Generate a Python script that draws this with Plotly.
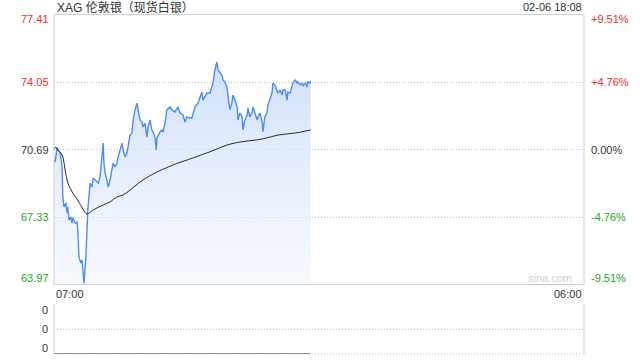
import pandas as pd
import plotly.graph_objects as go

# ---------------- data ----------------
title_text = "XAG 伦敦银（现货白银）"
stamp_text = "02-06 18:08"
day = "2025-02-06 "

price_times = [
    "07:00", "07:03", "07:08", "07:10", "07:16", "07:21", "07:23", "07:26", "07:31", "07:34",
    "07:36", "07:39", "07:44", "07:47", "07:49", "07:55", "08:00", "08:02", "08:05", "08:10",
    "08:13", "08:15", "08:18", "08:23", "08:26", "08:28", "08:34", "08:39", "08:42", "08:47",
    "08:52", "08:55", "09:00", "09:05", "09:08", "09:10", "09:13", "09:18", "09:21", "09:26",
    "09:31", "09:34", "09:39", "09:44", "09:47", "09:52", "09:57", "10:00", "10:05", "10:10",
    "10:13", "10:18", "10:23", "10:26", "10:31", "10:36", "10:39", "10:44", "10:49", "10:52",
    "10:57", "11:02", "11:05", "11:10", "11:15", "11:18", "11:23", "11:26", "11:28", "11:36",
    "11:41", "11:44", "11:49", "11:54", "12:02", "12:07", "12:15", "12:23", "12:28", "12:36",
    "12:41", "12:46", "12:54", "12:59", "13:05", "13:07", "13:15", "13:20", "13:25", "13:28",
    "13:33", "13:38", "13:46", "13:51", "13:54", "13:59", "14:04", "14:07", "14:12", "14:17",
    "14:20", "14:25", "14:30", "14:33", "14:38", "14:43", "14:46", "14:51", "14:57", "14:59",
    "15:04", "15:10", "15:12", "15:17", "15:23", "15:25", "15:30", "15:36", "15:38", "15:43",
    "15:49", "15:51", "15:56", "16:02", "16:04", "16:09", "16:15", "16:17", "16:22", "16:28",
    "16:30", "16:35", "16:41", "16:43", "16:49", "16:54", "16:56", "17:02", "17:07", "17:09",
    "17:15", "17:20", "17:22", "17:28", "17:33", "17:35", "17:41", "17:46", "17:48", "17:54",
    "17:59", "18:01", "18:07", "18:08",
]
price_values = [
    70.17, 70.07, 70.81, 70.67, 70.52, 69.82, 68.33, 67.83, 68.03, 67.53,
    67.83, 67.18, 67.33, 67.03, 67.28, 67.03, 67.08, 66.68, 65.34, 65.04,
    65.19, 64.59, 64.04, 65.34, 67.33, 67.68, 69.02, 68.82, 69.27, 69.17,
    69.07, 69.02, 69.32, 70.67, 71.01, 70.02, 69.52, 69.17, 68.82, 69.17,
    69.67, 70.02, 69.82, 70.02, 70.32, 70.67, 71.01, 70.67, 70.32, 70.52,
    70.81, 71.41, 71.51, 72.16, 72.66, 73.00, 72.66, 72.16, 72.06, 71.81,
    72.01, 71.31, 71.81, 72.16, 71.66, 71.56, 71.31, 70.67, 71.26, 71.56,
    71.66, 71.56, 72.01, 72.66, 72.81, 72.66, 72.56, 72.81, 72.51, 72.41,
    72.06, 72.31, 72.26, 72.26, 72.66, 72.81, 73.00, 73.25, 73.55, 73.15,
    73.30, 73.50, 73.50, 73.80, 74.00, 74.65, 75.05, 74.65, 74.55, 74.40,
    74.15, 74.05, 73.80, 73.30, 72.66, 73.00, 73.40, 73.15, 72.81, 72.16,
    72.51, 72.31, 71.66, 72.16, 72.41, 72.76, 72.31, 72.56, 72.81, 72.51,
    72.16, 72.31, 72.51, 72.06, 71.56, 72.31, 72.56, 72.91, 73.15, 73.55,
    74.00, 73.90, 73.65, 73.50, 73.65, 73.40, 73.65, 73.65, 73.15, 73.55,
    73.50, 73.80, 74.00, 74.15, 74.00, 74.05, 73.90, 74.00, 73.85, 74.00,
    73.80, 74.05, 74.00, 74.10,
]

avg_times = [
    "07:00", "07:03", "07:10", "07:21", "07:29", "07:36", "07:49", "08:02", "08:15", "08:26",
    "08:42", "09:08", "09:26", "09:44", "10:00", "10:18", "10:44", "11:18", "12:10", "13:02",
    "13:38", "13:59", "14:30", "15:04", "16:02", "16:43", "17:28", "18:08",
]
avg_values = [
    70.67, 70.81, 70.67, 70.42, 69.67, 69.02, 68.52, 68.17, 67.73, 67.48,
    67.68, 67.93, 68.08, 68.33, 68.43, 68.67, 69.07, 69.47, 69.92, 70.27,
    70.52, 70.67, 70.91, 71.06, 71.21, 71.41, 71.51, 71.66,
]

volume_times = ["07:00", "18:08"]
volume_values = [0, 0]

prev_close = 70.69
price_ticks = [77.41, 74.05, 70.69, 67.33, 63.97]
pct_ticks = ["+9.51%", "+4.76%", "0.00%", "-4.76%", "-9.51%"]
tick_colors = ["#f23030", "#f23030", "#333333", "#22a822", "#22a822"]
x_start, x_end = "2025-02-06 07:00", "2025-02-07 06:00"
x_labels = ["07:00", "06:00"]
vol_labels = ["0", "0", "0"]

# ---------------- figure ----------------
W, H = 640, 360
L, R = 54, 584
MT, MB = 14.5, 284.5
VT, VB = 304, 354
DOTS = "1px,2px"


def py(p):
    return 1 - p / H


px_t = [pd.Timestamp(day + t) for t in price_times]
av_t = [pd.Timestamp(day + t) for t in avg_times]
vo_t = [pd.Timestamp(day + t) for t in volume_times]

FONT = "Liberation Sans, Arial, Noto Sans CJK SC, sans-serif"

fig = go.Figure()
fig.add_trace(go.Scatter(
    x=px_t, y=price_values, mode="lines",
    line=dict(color="#4d8df2", width=1.4),
    fill="tozeroy",
    fillgradient=dict(type="vertical", start=price_ticks[-1], stop=max(price_values),
                      colorscale=[[0, "rgba(238,244,253,0.5)"], [1, "rgba(200,218,248,0.85)"]]),
    xaxis="x", yaxis="y", hoverinfo="skip", showlegend=False,
))
fig.add_trace(go.Scatter(
    x=av_t, y=avg_values, mode="lines", line=dict(color="#2b2b2b", width=1, shape="spline"),
    xaxis="x", yaxis="y", hoverinfo="skip", showlegend=False,
))
fig.add_trace(go.Scatter(
    x=vo_t, y=volume_values, mode="lines", line=dict(color="#888888", width=2),
    xaxis="x2", yaxis="y2", hoverinfo="skip", showlegend=False,
))

xd = [L / W, R / W]
fig.update_layout(
    width=W, height=H, margin=dict(l=0, r=0, t=0, b=0),
    paper_bgcolor="white", plot_bgcolor="white",
    font=dict(family=FONT, size=11, color="#333"),
    xaxis=dict(domain=xd, range=[x_start, x_end], type="date", showticklabels=False,
               showgrid=False, zeroline=False, showline=False, anchor="y", fixedrange=True),
    yaxis=dict(domain=[py(MB), py(MT)], range=[price_ticks[-1], price_ticks[0]],
               tickvals=price_ticks[1:-1], showticklabels=False, showgrid=True,
               gridcolor="#bbbbbb", griddash=DOTS, gridwidth=1, zeroline=False,
               showline=False, anchor="x"),
    xaxis2=dict(domain=xd, range=[x_start, x_end], type="date", showticklabels=False,
                showgrid=False, zeroline=False, showline=False, anchor="y2", matches="x"),
    yaxis2=dict(domain=[py(VB), py(VT)], range=[0, 1], tickvals=[0.5, 1], showticklabels=False,
                showgrid=True, gridcolor="#bbbbbb", griddash=DOTS, zeroline=False,
                showline=False, anchor="x2"),
)

shapes = []
# main panel border
shapes.append(dict(type="rect", xref="paper", yref="paper", x0=L / W, x1=R / W,
                   y0=py(MB), y1=py(MT), line=dict(color="#d0d0d0", width=1)))
# volume panel sides and bottom
shapes.append(dict(type="line", xref="paper", yref="paper", x0=L / W, x1=L / W,
                   y0=py(VB), y1=py(VT), line=dict(color="#d0d0d0", width=1)))
shapes.append(dict(type="line", xref="paper", yref="paper", x0=R / W, x1=R / W,
                   y0=py(VB), y1=py(VT), line=dict(color="#d0d0d0", width=1)))
shapes.append(dict(type="line", xref="paper", yref="paper", x0=L / W, x1=R / W,
                   y0=py(VB), y1=py(VB), line=dict(color="#bbbbbb", width=1, dash=DOTS)))
fig.update_layout(shapes=shapes)

ann = []
ann.append(dict(text=title_text, x=(L + 1) / W, y=py(7), xref="paper", yref="paper",
                xanchor="left", yanchor="middle", showarrow=False,
                font=dict(size=12, color="#333")))
ann.append(dict(text=stamp_text, x=R / W, y=py(7), xref="paper", yref="paper",
                xanchor="right", yanchor="middle", showarrow=False,
                font=dict(size=11, color="#333")))
for i, (v, pt, c) in enumerate(zip(price_ticks, pct_ticks, tick_colors)):
    if i == 0:
        ya, ys = "top", 3
    elif i == len(price_ticks) - 1:
        ya, ys = "bottom", -1
    else:
        ya, ys = "middle", 0
    ann.append(dict(text=f"{v:.2f}", x=(L - 3) / W, y=v, xref="paper", yref="y",
                    xanchor="right", yanchor=ya, yshift=ys, showarrow=False,
                    font=dict(size=11, color=c)))
    ann.append(dict(text=pt, x=(R + 5) / W, y=v, xref="paper", yref="y",
                    xanchor="left", yanchor=ya, yshift=ys, showarrow=False,
                    font=dict(size=11, color=c)))
ann.append(dict(text=x_labels[0], x=(L) / W, y=py(294), xref="paper", yref="paper",
                xanchor="left", yanchor="middle", showarrow=False, font=dict(size=11, color="#333")))
ann.append(dict(text=x_labels[1], x=R / W, y=py(294), xref="paper", yref="paper",
                xanchor="right", yanchor="middle", showarrow=False, font=dict(size=11, color="#333")))
ann.append(dict(text="sina.com", x=(R - 10) / W, y=py(278), xref="paper", yref="paper",
                xanchor="right", yanchor="middle", showarrow=False, font=dict(size=11, color="#cfcfcf")))
for lab, yy in zip(vol_labels, [310, 329, 348]):
    ann.append(dict(text=lab, x=(L - 4) / W, y=py(yy), xref="paper", yref="paper",
                    xanchor="right", yanchor="middle", showarrow=False, font=dict(size=11, color="#333")))
fig.update_layout(annotations=ann)

fig.write_html("out.html", config={"displayModeBar": False})
